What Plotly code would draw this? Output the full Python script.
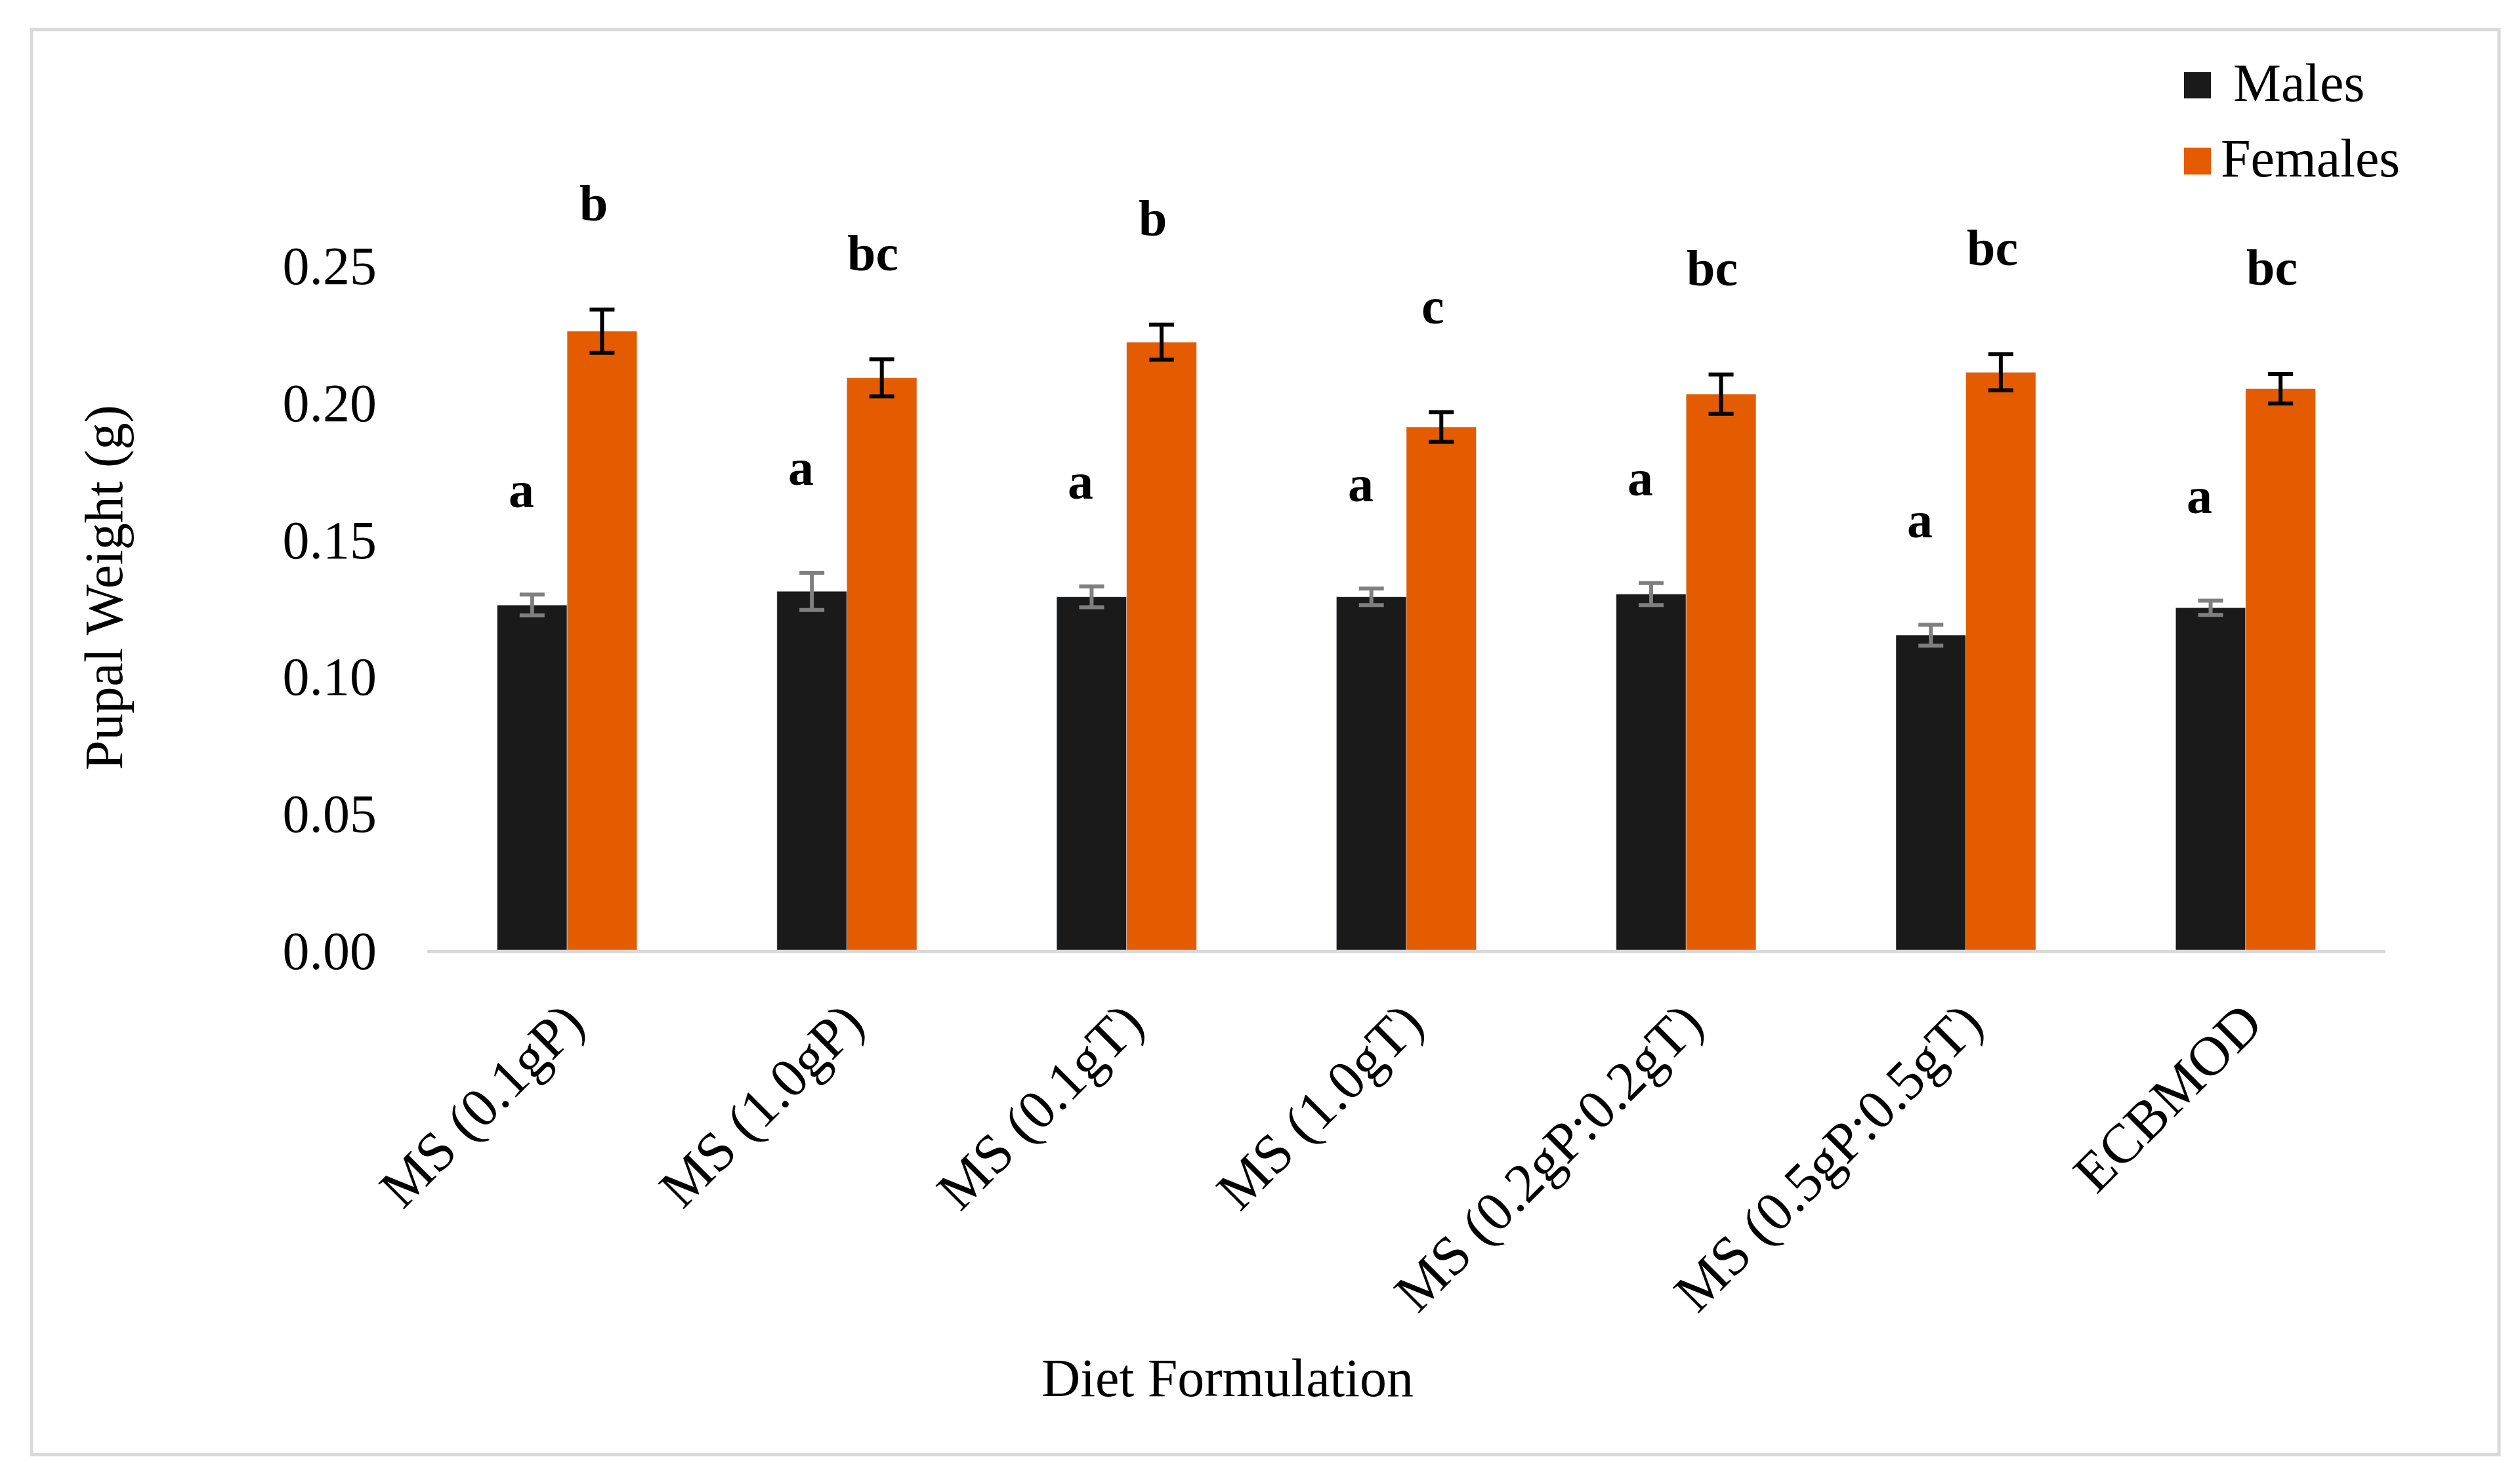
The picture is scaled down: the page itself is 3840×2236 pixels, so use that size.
import plotly.graph_objects as go

categories = ["MS (0.1gP)", "MS (1.0gP)", "MS (0.1gT)", "MS (1.0gT)",
              "MS (0.2gP:0.2gT)", "MS (0.5gP:0.5gT)", "ECBMOD"]
males = [0.126, 0.131, 0.129, 0.129, 0.130, 0.115, 0.125]
males_err = [0.0038, 0.0068, 0.0038, 0.0030, 0.0040, 0.0038, 0.0026]
females = [0.226, 0.209, 0.222, 0.191, 0.203, 0.211, 0.205]
females_err = [0.0079, 0.0068, 0.0064, 0.0054, 0.0072, 0.0066, 0.0054]
males_letters = ["a", "a", "a", "a", "a", "a", "a"]
females_letters = ["b", "bc", "b", "c", "bc", "bc", "bc"]
y_ticks = [0.00, 0.05, 0.10, 0.15, 0.20, 0.25]

FONT = "Liberation Serif, Times New Roman, serif"
MALE_C = "#1a1a1a"
FEMALE_C = "#e55c00"

W, H = 3840, 2236
L, R, T, B = 643, 213, 188, 796
PW = W - L - R
PH = H - T - B


def px(x):
    return (x - L) / PW


def py(y):
    return (H - B - y) / PH


fig = go.Figure()
fig.add_trace(go.Bar(
    name="Males", x=categories, y=males, marker_color=MALE_C,
    error_y=dict(type="data", array=males_err, color="#7f7f7f", thickness=6, width=19),
    showlegend=False,
))
fig.add_trace(go.Bar(
    name="Females", x=categories, y=females, marker_color=FEMALE_C,
    error_y=dict(type="data", array=females_err, color="#000000", thickness=6, width=19),
    showlegend=False,
))

annotations = []
for i, c in enumerate(categories):
    annotations.append(dict(x=c, y=males[i] + males_err[i], xref="x", yref="y",
                            text="<b>%s</b>" % males_letters[i], showarrow=False,
                            xshift=-70, yshift=160, yanchor="middle",
                            font=dict(family=FONT, size=78, color="black")))
    annotations.append(dict(x=c, y=females[i] + females_err[i], xref="x", yref="y",
                            text="<b>%s</b>" % females_letters[i], showarrow=False,
                            xshift=40, yshift=162, yanchor="middle",
                            font=dict(family=FONT, size=78, color="black")))

# axis titles
annotations.append(dict(x=px(150), y=py(888), xref="paper", yref="paper",
                        text="Pupal Weight (g)", textangle=-90, showarrow=False,
                        xanchor="center", yanchor="middle",
                        font=dict(family=FONT, size=82, color="black")))
annotations.append(dict(x=px(1862), y=py(2092), xref="paper", yref="paper",
                        text="Diet Formulation", showarrow=False,
                        xanchor="center", yanchor="middle",
                        font=dict(family=FONT, size=82, color="black")))
# legend texts
annotations.append(dict(x=px(3393), y=py(118), xref="paper", yref="paper",
                        text="Males", showarrow=False, xanchor="left", yanchor="middle",
                        font=dict(family=FONT, size=82, color="black")))
annotations.append(dict(x=px(3374), y=py(233), xref="paper", yref="paper",
                        text="Females", showarrow=False, xanchor="left", yanchor="middle",
                        font=dict(family=FONT, size=82, color="black")))

shapes = [
    dict(type="rect", xref="paper", yref="paper", x0=px(40), x1=px(3800),
         y0=py(2209), y1=py(37), line=dict(color="#d9d9d9", width=5),
         fillcolor="rgba(0,0,0,0)", layer="below"),
    dict(type="rect", xref="paper", yref="paper", x0=px(3320), x1=px(3361),
         y0=py(142), y1=py(102), line=dict(width=0), fillcolor=MALE_C),
    dict(type="rect", xref="paper", yref="paper", x0=px(3320), x1=px(3361),
         y0=py(258), y1=py(217), line=dict(width=0), fillcolor=FEMALE_C),
]

fig.update_layout(
    width=W, height=H,
    margin=dict(l=L, r=R, t=T, b=B, autoexpand=False),
    paper_bgcolor="white", plot_bgcolor="white",
    barmode="group", bargap=0.5, bargroupgap=0,
    font=dict(family=FONT, size=82, color="black"),
    annotations=annotations, shapes=shapes,
    showlegend=False,
)
fig.update_xaxes(showline=True, linecolor="#d9d9d9", linewidth=5, showgrid=False,
                 tickangle=-45, ticks="", ticklabelstandoff=22,
                 tickfont=dict(family=FONT, size=85, color="black"))
fig.update_yaxes(range=[0, 0.30], tickvals=y_ticks, tickformat=".2f", showgrid=False,
                 zeroline=False, showline=False, ticks="", ticklabelstandoff=76,
                 tickfont=dict(family=FONT, size=82, color="black"))

fig.write_html("out.html")
